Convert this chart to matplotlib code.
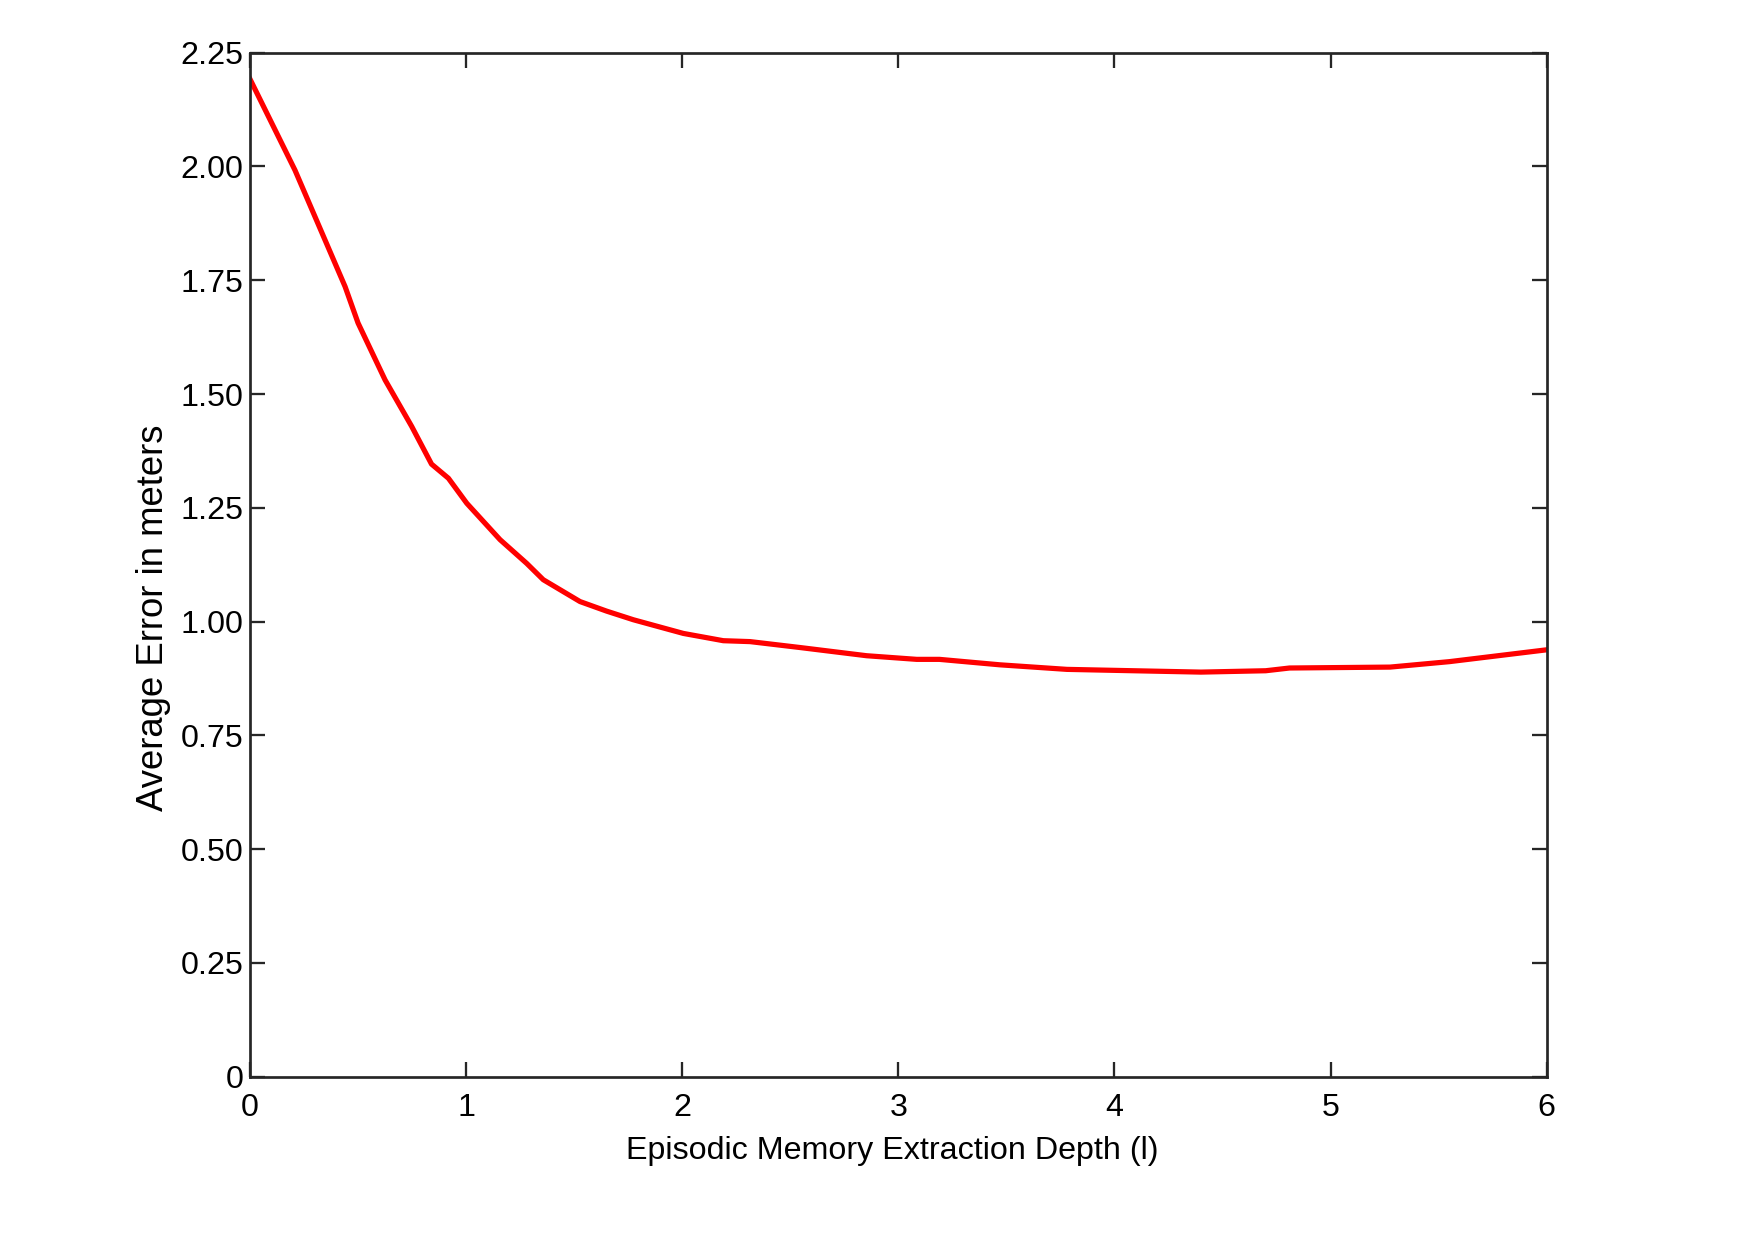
import matplotlib.pyplot as plt

plt.rcParams['font.family'] = ['Liberation Sans', 'DejaVu Sans']

# values
depth = [0.0, 0.208, 0.44, 0.50, 0.625, 0.748, 0.84, 0.918, 1.003, 1.157,
         1.28, 1.357, 1.527, 1.65, 1.774, 1.897, 2.005, 2.19, 2.314, 2.545,
         2.853, 3.085, 3.19, 3.47, 3.78, 4.088, 4.40, 4.70, 4.81, 5.275,
         5.55, 6.0]
avg_error = [2.192, 1.992, 1.736, 1.656, 1.531, 1.429, 1.346, 1.315, 1.260, 1.180,
             1.128, 1.092, 1.044, 1.023, 1.004, 0.988, 0.974, 0.958, 0.956, 0.943,
             0.925, 0.917, 0.917, 0.905, 0.895, 0.892, 0.889, 0.892, 0.898, 0.900,
             0.912, 0.938]

x_ticks = [0, 1, 2, 3, 4, 5, 6]
y_ticks = [0, 0.25, 0.5, 0.75, 1.0, 1.25, 1.5, 1.75, 2.0, 2.25]
y_tick_labels = ['0', '0.25', '0.50', '0.75', '1.00', '1.25', '1.50', '1.75', '2.00', '2.25']

fig = plt.figure(figsize=(11.7, 8.2667), dpi=150)
ax = fig.add_axes([250 / 1755, 1 - 1076.7 / 1240, 1296.7 / 1755, 1024 / 1240])

ax.plot(depth, avg_error, color='#ff0000', linewidth=2.5, solid_joinstyle='round')

ax.set_xlim(0, 6)
ax.set_ylim(0, 2.25)
ax.set_xticks(x_ticks)
ax.set_yticks(y_ticks)
ax.set_yticklabels(y_tick_labels)

for s in ax.spines.values():
    s.set_color('#262626')
    s.set_linewidth(1.3)

ax.tick_params(direction='in', length=7, width=1.1, color='#262626',
               top=True, right=True, labelsize=15.5)
ax.tick_params(axis='x', pad=8)
ax.tick_params(axis='y', pad=3)

ax.set_xlabel('Episodic Memory Extraction Depth (l)', fontsize=15.5)
ax.set_ylabel('Average Error in meters', fontsize=17.5)
ax.yaxis.set_label_coords(-0.061, 0.448)
ax.xaxis.set_label_coords(0.495, -0.058)

fig.savefig('out.png', dpi=150)
